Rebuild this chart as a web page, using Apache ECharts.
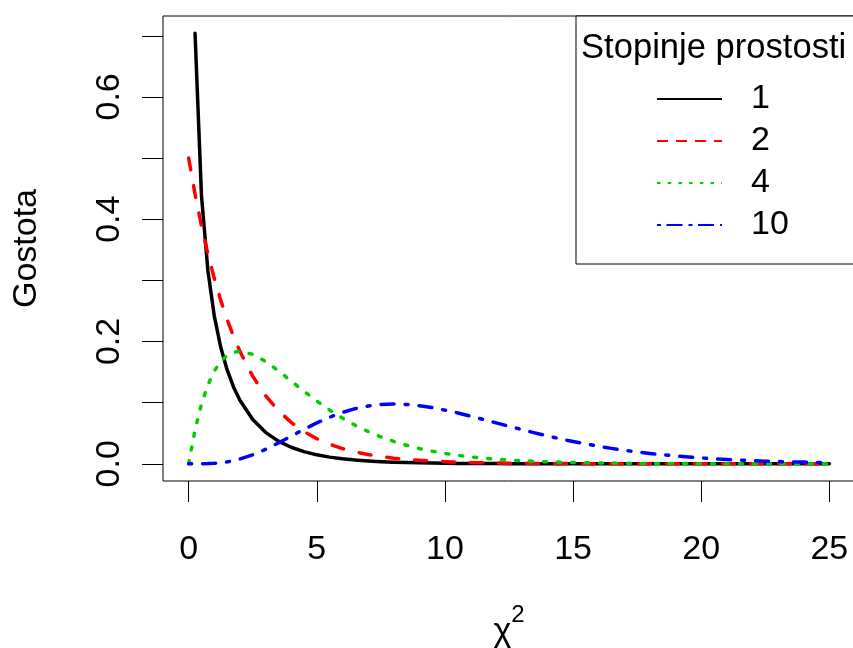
<!DOCTYPE html>
<html><head><meta charset="utf-8">
<script src="https://cdn.jsdelivr.net/npm/echarts@6/dist/echarts.min.js"></script>
<style>html,body{margin:0;padding:0;background:#fff}#chart{width:853px;height:648px}</style>
</head><body><div id="chart"></div>
<script>
// x grid (chi-square values)
const xValues = [0, 0.25, 0.5, 0.75, 1, 1.25, 1.5, 1.75, 2,
  2.5, 3, 3.5, 4, 4.5, 5, 5.5, 6, 6.5, 7,
  7.5, 8, 8.5, 9, 9.5, 10, 10.5, 11, 11.5, 12,
  12.5, 13, 13.5, 14, 14.5, 15, 15.5, 16, 16.5, 17,
  17.5, 18, 18.5, 19, 19.5, 20, 20.5, 21, 21.5, 22,
  22.5, 23, 23.5, 24, 24.5, 25];
// density, 1 degree of freedom
const dens1 = [null, 0.7041, 0.4394, 0.3166, 0.2420, 0.1910, 0.1539, 0.1257, 0.1038,
  0.0723, 0.0514, 0.0371, 0.0270, 0.0198, 0.0146, 0.0109, 0.0081, 0.0061, 0.0046,
  0.0034, 0.0026, 0.0020, 0.0015, 0.0011, 0.00085, 0.00065, 0.00049, 0.00037, 0.00029,
  0.00022, 0.00017, 0.00013, 0.0001, 0.00007, 0.00006, 0.00004, 0.00003, 0.00003, 0.00002,
  0.00002, 0.00001, 0.00001, 0.00001, 0.00001, 0, 0, 0, 0, 0,
  0, 0, 0, 0, 0, 0];
// density, 2 degrees of freedom
const dens2 = [0.5, 0.4412, 0.3894, 0.3436, 0.3033, 0.2676, 0.2362, 0.2084, 0.1839,
  0.1433, 0.1116, 0.0869, 0.0677, 0.0527, 0.0410, 0.0320, 0.0249, 0.0194, 0.0151,
  0.0118, 0.0092, 0.0071, 0.0056, 0.0043, 0.0034, 0.0026, 0.0020, 0.0016, 0.0012,
  0.00097, 0.00075, 0.00059, 0.00046, 0.00036, 0.00028, 0.00022, 0.00017, 0.00013, 0.0001,
  0.00008, 0.00006, 0.00005, 0.00004, 0.00003, 0.00002, 0.00002, 0.00001, 0.00001, 0.00001,
  0.00001, 0.00001, 0, 0, 0, 0];
// density, 4 degrees of freedom
const dens4 = [0, 0.0552, 0.0974, 0.1289, 0.1516, 0.1673, 0.1771, 0.1824, 0.1839,
  0.1791, 0.1673, 0.1521, 0.1353, 0.1186, 0.1026, 0.0879, 0.0747, 0.0630, 0.0528,
  0.0441, 0.0366, 0.0303, 0.0250, 0.0206, 0.0168, 0.0138, 0.0112, 0.0092, 0.0074,
  0.0060, 0.0049, 0.0040, 0.0032, 0.0026, 0.0021, 0.0017, 0.0013, 0.0011, 0.0009,
  0.0007, 0.00055, 0.00044, 0.00036, 0.00028, 0.00023, 0.00018, 0.00014, 0.00012, 0.00009,
  0.00007, 0.00006, 0.00005, 0.00004, 0.00003, 0.00002];
// density, 10 degrees of freedom
const dens10 = [0, 0.0000045, 0.000063, 0.00028, 0.00079, 0.0017, 0.0031, 0.0051, 0.0077,
  0.0146, 0.0235, 0.0340, 0.0451, 0.0563, 0.0668, 0.0762, 0.0840, 0.0901, 0.0944,
  0.0969, 0.0977, 0.0970, 0.0949, 0.0918, 0.0877, 0.0831, 0.0779, 0.0725, 0.0669,
  0.0614, 0.0559, 0.0506, 0.0456, 0.0409, 0.0365, 0.0324, 0.0286, 0.0252, 0.0221,
  0.0194, 0.0169, 0.0147, 0.0127, 0.0110, 0.0095, 0.0081, 0.0070, 0.0060, 0.0051,
  0.0043, 0.0037, 0.0031, 0.0027, 0.0022, 0.0019];

const seriesNames = ['1', '2', '4', '10'];
const legendTitle = 'Stopinje prostosti';
const xTicks = [0, 5, 10, 15, 20, 25];
const yTicks = [0, 0.1, 0.2, 0.3, 0.4, 0.5, 0.6, 0.7];
const yTickLabels = [0, 0.2, 0.4, 0.6];
const yAxisTitle = 'Gostota';

const FONT = "'Liberation Sans', Arial, Helvetica, sans-serif";
const colors = ['#000000', '#FF0000', '#00CD00', '#0000FF'];
const dashes = ['solid', [12, 16], [3, 11], [3, 11, 13, 11]];
const legendDashes = ['solid', [11, 8], [3.5, 7.2], [4, 5.5, 16, 6]];
const allDens = [dens1, dens2, dens4, dens10];

const chart = echarts.init(document.getElementById('chart'), null, {renderer: 'canvas'});
const series = allDens.map((d, i) => ({
  type: 'line',
  name: seriesNames[i],
  data: xValues.map((x, j) => d[j] === null ? [x, '-'] : [x, d[j]]),
  symbol: 'none',
  showSymbol: false,
  smooth: false,
  connectNulls: false,
  color: colors[i],
  lineStyle: {color: colors[i], width: 3.5, type: dashes[i], cap: 'round', join: 'round'},
  emphasis: {disabled: true},
  animation: false
}));

chart.setOption({
  animation: false,
  backgroundColor: '#ffffff',
  title: {
    text: legendTitle, left: 576, top: 26,
    textStyle: {fontSize: 34.6, fontWeight: 'normal', color: '#000', fontFamily: FONT}
  },
  legend: {
    left: 576, top: 16,
    orient: 'vertical',
    padding: [66, 69, 22, 80],
    itemWidth: 65, itemHeight: 14, itemGap: 8,
    borderColor: '#000', borderWidth: 1, borderRadius: 0,
    backgroundColor: '#fff',
    selectedMode: false,
    textStyle: {fontSize: 34, lineHeight: 34, color: '#000', fontFamily: FONT, padding: [0, 0, 0, 24]},
    data: seriesNames.map((n, i) => ({
      name: n,
      itemStyle: {opacity: 0, borderWidth: 0},
      lineStyle: {color: colors[i], width: 2, type: legendDashes[i], cap: 'butt', opacity: 1}
    }))
  },
  grid: {
    left: 163, right: -2, top: 16, bottom: 167,
    containLabel: false, outerBoundsMode: 'none',
    show: true, borderColor: '#000', borderWidth: 1, backgroundColor: 'transparent'
  },
  xAxis: {
    type: 'value', min: -1, max: 26,
    name: '{c|χ}{s|2}',
    nameLocation: 'middle', nameGap: 122,
    nameTextStyle: {
      color: '#000', fontFamily: FONT,
      rich: {
        c: {fontSize: 34, lineHeight: 58, fontFamily: FONT, color: '#000'},
        s: {fontSize: 24, lineHeight: 24, verticalAlign: 'top', fontFamily: FONT, color: '#000'}
      }
    },
    axisLine: {show: false, onZero: false},
    splitLine: {show: false},
    axisTick: {show: true, customValues: xTicks, length: 21, lineStyle: {color: '#000', width: 1}},
    axisLabel: {customValues: xTicks, margin: 52, fontSize: 34, color: '#000', fontFamily: FONT}
  },
  yAxis: {
    type: 'value', min: -0.02817, max: 0.73230,
    name: yAxisTitle, nameLocation: 'middle', nameGap: 119, nameRotate: 90,
    nameTextStyle: {fontSize: 34, color: '#000', fontFamily: FONT},
    axisLine: {show: false, onZero: false},
    splitLine: {show: false},
    axisTick: {show: true, customValues: yTicks, length: 21, lineStyle: {color: '#000', width: 1}},
    axisLabel: {customValues: yTickLabels, rotate: 90, margin: 36, fontSize: 34, color: '#000', fontFamily: FONT,
      formatter: v => Number(v).toFixed(1)}
  },
  series: series
});
</script></body></html>
